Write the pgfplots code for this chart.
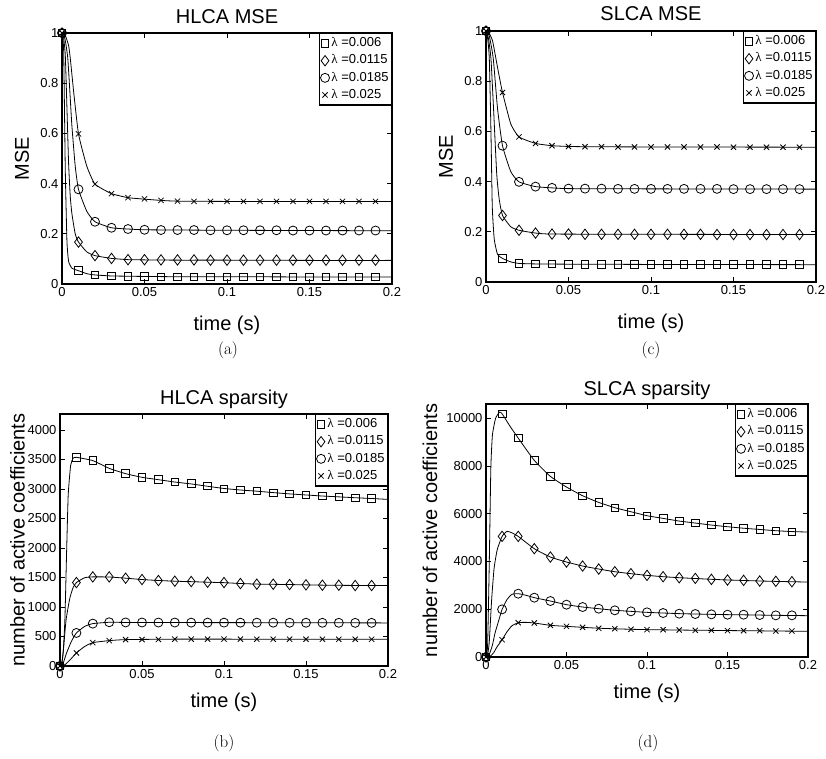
\documentclass[border=0pt]{standalone}
\usepackage{fontspec}
\usepackage{pgfplots}
\pgfplotsset{compat=1.18}
\usepackage{pgfplotstable}
\newfontfamily\helv{Liberation Sans}
\newfontfamily\grk{Liberation Serif}
\newcommand{\lam}{{\grk λ}}

\pgfplotsset{
  legend image code/.code={\draw[#1] plot coordinates {(4.5pt,0pt)};},
  base/.style={
    scale only axis, anchor=south west,
    xmin=0, xmax=0.2,
    xtick={0,0.05,0.1,0.15,0.2}, xticklabels={0,0.05,0.1,0.15,0.2},
    scaled y ticks=false, scaled x ticks=false,
    tick align=inside, major tick length=5pt,
    axis line style={line width=1.2pt},
    every tick/.style={black, line width=0.7pt},
    tick label style={font=\helv\fontsize{13}{15}\selectfont},
    /pgf/number format/assume math mode=true,
    label style={font=\helv\fontsize{20}{24}\selectfont},
    title style={font=\helv\fontsize{20}{24}\selectfont, anchor=center},
    xlabel style={anchor=center}, ylabel style={anchor=center},
    legend style={at={(1,1)}, anchor=north east, draw=black, line width=1.2pt,
      font=\helv\fontsize{13}{15}\selectfont, inner xsep=1pt, inner ysep=1.5pt,
      row sep=0pt, nodes={inner sep=1.8pt, text height=10pt, text depth=3.5pt}},
    legend cell align=left,
  },
  ln/.style={black, line width=0.8pt, smooth, tension=0.3, no marks, forget plot},
  mS/.style={only marks, mark=square, mark size=3.8pt, mark options={black, line width=0.8pt}},
  mD/.style={only marks, mark=diamond, mark size=5.2pt, mark options={black, line width=0.8pt}},
  mC/.style={only marks, mark=o, mark size=4.5pt, mark options={black, line width=0.8pt}},
  mX/.style={only marks, mark=x, mark size=3.7pt, mark options={black, line width=0.8pt}},
}

% ---------- marker data (t = 0, 0.01, ..., 0.19) ----------
\pgfplotstableread{
t s d c x
0    1     1     1     1
0.01 0.053 0.167 0.377 0.598
0.02 0.036 0.113 0.248 0.398
0.03 0.032 0.102 0.224 0.360
0.04 0.031 0.097 0.219 0.344
0.05 0.030 0.097 0.216 0.339
0.06 0.029 0.096 0.215 0.333
0.07 0.029 0.096 0.215 0.330
0.08 0.029 0.096 0.215 0.329
0.09 0.029 0.095 0.214 0.329
0.10 0.029 0.095 0.214 0.329
0.11 0.029 0.095 0.214 0.329
0.12 0.029 0.095 0.214 0.329
0.13 0.028 0.095 0.214 0.329
0.14 0.028 0.095 0.213 0.329
0.15 0.028 0.095 0.213 0.329
0.16 0.028 0.095 0.213 0.329
0.17 0.028 0.095 0.213 0.329
0.18 0.028 0.095 0.213 0.329
0.19 0.028 0.095 0.213 0.329
}\HM

\pgfplotstableread{
t s d c x
0    1     1     1     1
0.01 0.094 0.265 0.543 0.755
0.02 0.074 0.206 0.399 0.578
0.03 0.072 0.195 0.380 0.552
0.04 0.072 0.191 0.375 0.543
0.05 0.071 0.191 0.372 0.540
0.06 0.071 0.190 0.372 0.539
0.07 0.071 0.190 0.372 0.539
0.08 0.071 0.190 0.371 0.538
0.09 0.070 0.190 0.371 0.538
0.10 0.070 0.190 0.371 0.538
0.11 0.070 0.190 0.371 0.538
0.12 0.070 0.190 0.371 0.538
0.13 0.070 0.190 0.371 0.538
0.14 0.070 0.189 0.371 0.538
0.15 0.070 0.189 0.370 0.537
0.16 0.070 0.189 0.370 0.537
0.17 0.069 0.189 0.370 0.537
0.18 0.069 0.189 0.370 0.537
0.19 0.069 0.189 0.370 0.537
}\SM

\pgfplotstableread{
t s d c x
0    0    0    0   0
0.01 3536 1414 560 221
0.02 3480 1510 718 396
0.03 3349 1510 741 430
0.04 3259 1488 738 447
0.05 3197 1465 737 448
0.06 3157 1448 736 450
0.07 3117 1437 736 455
0.08 3089 1431 735 455
0.09 3050 1420 735 455
0.10 3004 1414 735 455
0.11 2982 1397 734 455
0.12 2965 1386 734 454
0.13 2936 1386 734 454
0.14 2914 1380 733 454
0.15 2902 1375 733 454
0.16 2880 1369 732 454
0.17 2868 1369 732 453
0.18 2851 1364 731 453
0.19 2840 1364 731 453
}\HS

\pgfplotstableread{
t s d c x
0    0     0    0    0
0.01 10181 5049 1994 725
0.02 9163  5049 2650 1437
0.03 8229  4533 2483 1423
0.04 7559  4184 2343 1325
0.05 7113  3975 2190 1283
0.06 6750  3808 2092 1241
0.07 6471  3682 2022 1199
0.08 6248  3570 1953 1185
0.09 6081  3487 1911 1158
0.10 5914  3417 1869 1144
0.11 5802  3361 1841 1144
0.12 5690  3319 1813 1130
0.13 5607  3291 1799 1116
0.14 5523  3250 1785 1116
0.15 5453  3222 1771 1102
0.16 5384  3208 1771 1102
0.17 5342  3180 1757 1102
0.18 5286  3166 1743 1088
0.19 5244  3152 1743 1088
}\SS

\begin{document}
\begin{tikzpicture}
\path[use as bounding box] (0,0) rectangle (826pt,759pt);

% ===================== (a) HLCA MSE =====================
\begin{axis}[base, at={(62pt,475pt)}, width=330pt, height=251pt,
  ymin=0, ymax=1, ytick={0,0.2,0.4,0.6,0.8,1}, yticklabels={0,0.2,0.4,0.6,0.8,1},
  title={HLCA MSE}, title style={at={(axis description cs:0.5,1.040)}},
  xlabel={time (s)}, xlabel style={at={(axis description cs:0.5,-0.163)}},
  ylabel={MSE}, ylabel style={at={(axis description cs:-0.121,0.5)}}]
\addplot[ln] coordinates {(0,1)(0.001,0.93)(0.002,0.45)(0.003,0.17)(0.004,0.09)(0.006,0.063)(0.01,0.053)(0.015,0.041)(0.02,0.036)(0.03,0.032)(0.04,0.031)(0.05,0.030)(0.07,0.029)(0.1,0.029)(0.15,0.028)(0.2,0.028)};
\addplot[ln] coordinates {(0,1)(0.001,0.98)(0.002,0.91)(0.003,0.70)(0.004,0.48)(0.005,0.35)(0.006,0.28)(0.008,0.20)(0.01,0.167)(0.015,0.128)(0.02,0.113)(0.03,0.102)(0.04,0.097)(0.05,0.096)(0.07,0.095)(0.1,0.095)(0.15,0.094)(0.2,0.094)};
\addplot[ln] coordinates {(0,1)(0.001,0.995)(0.002,0.97)(0.0035,0.90)(0.005,0.74)(0.006,0.63)(0.008,0.47)(0.01,0.377)(0.015,0.29)(0.02,0.248)(0.03,0.224)(0.04,0.219)(0.05,0.216)(0.07,0.215)(0.1,0.214)(0.15,0.213)(0.2,0.212)};
\addplot[ln] coordinates {(0,1)(0.002,0.99)(0.004,0.95)(0.005,0.90)(0.007,0.77)(0.01,0.598)(0.015,0.47)(0.02,0.398)(0.03,0.36)(0.04,0.344)(0.05,0.338)(0.06,0.333)(0.07,0.330)(0.1,0.329)(0.15,0.329)(0.2,0.329)};
\addplot[mS] table[x=t,y=s] {\HM};
\addplot[mD] table[x=t,y=d] {\HM};
\addplot[mC] table[x=t,y=c] {\HM};
\addplot[mX] table[x=t,y=x] {\HM};
\legend{\lam\ =0.006,\lam\ =0.0115,\lam\ =0.0185,\lam\ =0.025}
\end{axis}

% ===================== (c) SLCA MSE =====================
\begin{axis}[base, at={(486pt,477pt)}, width=330pt, height=251pt,
  ymin=0, ymax=1, ytick={0,0.2,0.4,0.6,0.8,1}, yticklabels={0,0.2,0.4,0.6,0.8,1},
  title={SLCA MSE}, title style={at={(axis description cs:0.5,1.044)}},
  xlabel={time (s)}, xlabel style={at={(axis description cs:0.5,-0.163)}},
  ylabel={MSE}, ylabel style={at={(axis description cs:-0.121,0.5)}}]
\addplot[ln] coordinates {(0,1)(0.001,0.97)(0.002,0.89)(0.003,0.60)(0.0038,0.30)(0.005,0.17)(0.007,0.11)(0.01,0.094)(0.015,0.080)(0.02,0.074)(0.03,0.072)(0.05,0.071)(0.1,0.070)(0.2,0.069)};
\addplot[ln] coordinates {(0,1)(0.0015,0.97)(0.003,0.89)(0.0045,0.70)(0.0065,0.43)(0.008,0.33)(0.01,0.265)(0.015,0.22)(0.02,0.206)(0.03,0.195)(0.04,0.191)(0.1,0.190)(0.2,0.189)};
\addplot[ln] coordinates {(0,1)(0.002,0.98)(0.0044,0.89)(0.007,0.69)(0.01,0.543)(0.015,0.44)(0.02,0.399)(0.03,0.38)(0.04,0.375)(0.05,0.372)(0.1,0.371)(0.2,0.370)};
\addplot[ln] coordinates {(0,1)(0.002,0.99)(0.004,0.96)(0.006,0.89)(0.008,0.82)(0.01,0.755)(0.015,0.63)(0.02,0.578)(0.03,0.552)(0.04,0.543)(0.05,0.540)(0.06,0.539)(0.1,0.538)(0.2,0.537)};
\addplot[mS] table[x=t,y=s] {\SM};
\addplot[mD] table[x=t,y=d] {\SM};
\addplot[mC] table[x=t,y=c] {\SM};
\addplot[mX] table[x=t,y=x] {\SM};
\legend{\lam\ =0.006,\lam\ =0.0115,\lam\ =0.0185,\lam\ =0.025}
\end{axis}

% ===================== (b) HLCA sparsity =====================
\begin{axis}[base, at={(60pt,93pt)}, width=328pt, height=252pt,
  ymin=0, ymax=4270, ytick={0,500,...,4000}, yticklabels={0,500,1000,1500,2000,2500,3000,3500,4000},
  title={HLCA sparsity}, title style={at={(axis description cs:0.5,1.036)}},
  xlabel={time (s)}, xlabel style={at={(axis description cs:0.5,-0.1429)}},
  ylabel={number of active coefficients}, ylabel style={at={(axis description cs:-0.130,0.5)}}]
\addplot[ln] coordinates {(0,0)(0.001,20)(0.002,250)(0.003,800)(0.004,1900)(0.005,2900)(0.0065,3400)(0.008,3520)(0.01,3536)(0.02,3480)(0.03,3349)(0.04,3259)(0.05,3197)(0.06,3157)(0.07,3117)(0.08,3085)(0.09,3045)(0.1,3008)(0.11,2982)(0.12,2962)(0.13,2938)(0.14,2916)(0.15,2898)(0.16,2880)(0.17,2866)(0.18,2851)(0.19,2838)(0.2,2823)};
\addplot[ln] coordinates {(0,0)(0.001,30)(0.002,250)(0.0037,780)(0.006,1150)(0.008,1330)(0.01,1414)(0.015,1495)(0.02,1510)(0.03,1508)(0.04,1488)(0.05,1465)(0.06,1449)(0.07,1437)(0.08,1429)(0.09,1420)(0.1,1412)(0.11,1398)(0.12,1388)(0.14,1380)(0.16,1370)(0.18,1365)(0.2,1364)};
\addplot[ln] coordinates {(0,0)(0.001,5)(0.002,50)(0.004,220)(0.007,420)(0.01,560)(0.015,670)(0.02,718)(0.03,741)(0.04,738)(0.06,736)(0.1,735)(0.15,733)(0.2,730)};
\addplot[ln] coordinates {(0,0)(0.002,5)(0.003,20)(0.006,100)(0.01,221)(0.015,330)(0.02,396)(0.03,430)(0.04,447)(0.07,455)(0.1,455)(0.15,454)(0.2,453)};
\addplot[mS] table[x=t,y=s] {\HS};
\addplot[mD] table[x=t,y=d] {\HS};
\addplot[mC] table[x=t,y=c] {\HS};
\addplot[mX] table[x=t,y=x] {\HS};
\legend{\lam\ =0.006,\lam\ =0.0115,\lam\ =0.0185,\lam\ =0.025}
\end{axis}

% ===================== (d) SLCA sparsity =====================
\begin{axis}[base, at={(486pt,102pt)}, width=322pt, height=253pt,
  ymin=0, ymax=10590, ytick={0,2000,...,10000}, yticklabels={0,2000,4000,6000,8000,10000},
  title={SLCA sparsity}, title style={at={(axis description cs:0.5,1.032)}},
  xlabel={time (s)}, xlabel style={at={(axis description cs:0.5,-0.1423)}},
  ylabel={number of active coefficients}, ylabel style={at={(axis description cs:-0.174,0.5)}}]
\addplot[ln] coordinates {(0,0)(0.001,500)(0.002,3800)(0.003,7900)(0.004,9300)(0.006,10000)(0.0085,10250)(0.01,10181)(0.015,9650)(0.02,9163)(0.03,8229)(0.04,7559)(0.05,7113)(0.06,6750)(0.07,6471)(0.08,6248)(0.09,6081)(0.1,5914)(0.11,5802)(0.12,5690)(0.13,5607)(0.14,5523)(0.15,5453)(0.16,5390)(0.17,5338)(0.18,5286)(0.19,5250)(0.2,5230)};
\addplot[ln] coordinates {(0,0)(0.001,100)(0.002,600)(0.0035,2400)(0.005,3700)(0.007,4500)(0.01,5049)(0.013,5260)(0.016,5200)(0.02,5049)(0.03,4533)(0.04,4184)(0.05,3975)(0.06,3808)(0.07,3682)(0.08,3570)(0.09,3487)(0.1,3417)(0.11,3361)(0.12,3319)(0.13,3285)(0.14,3252)(0.15,3225)(0.16,3203)(0.17,3182)(0.18,3165)(0.19,3150)(0.2,3138)};
\addplot[ln] coordinates {(0,0)(0.001,20)(0.002,100)(0.004,500)(0.0056,1000)(0.008,1550)(0.01,1994)(0.013,2400)(0.016,2620)(0.02,2650)(0.025,2580)(0.03,2483)(0.04,2343)(0.05,2190)(0.06,2092)(0.07,2022)(0.08,1955)(0.09,1911)(0.1,1869)(0.11,1841)(0.12,1815)(0.13,1799)(0.14,1785)(0.15,1773)(0.16,1765)(0.17,1755)(0.18,1745)(0.19,1737)(0.2,1729)};
\addplot[ln] coordinates {(0,0)(0.002,10)(0.003,50)(0.005,200)(0.0066,400)(0.01,725)(0.013,1050)(0.016,1300)(0.02,1437)(0.025,1450)(0.03,1423)(0.04,1325)(0.05,1283)(0.06,1241)(0.07,1205)(0.08,1180)(0.09,1160)(0.1,1146)(0.12,1128)(0.14,1114)(0.16,1100)(0.18,1088)(0.2,1074)};
\addplot[mS] table[x=t,y=s] {\SS};
\addplot[mD] table[x=t,y=d] {\SS};
\addplot[mC] table[x=t,y=c] {\SS};
\addplot[mX] table[x=t,y=x] {\SS};
\legend{\lam\ =0.006,\lam\ =0.0115,\lam\ =0.0185,\lam\ =0.025}
\end{axis}

\node[font=\fontsize{17}{20}\selectfont] at (228pt,409pt) {(a)};
\node[font=\fontsize{17}{20}\selectfont] at (651pt,409pt) {(c)};
\node[font=\fontsize{17}{20}\selectfont] at (224pt,16pt) {(b)};
\node[font=\fontsize{17}{20}\selectfont] at (648pt,16pt) {(d)};
\end{tikzpicture}
\end{document}
